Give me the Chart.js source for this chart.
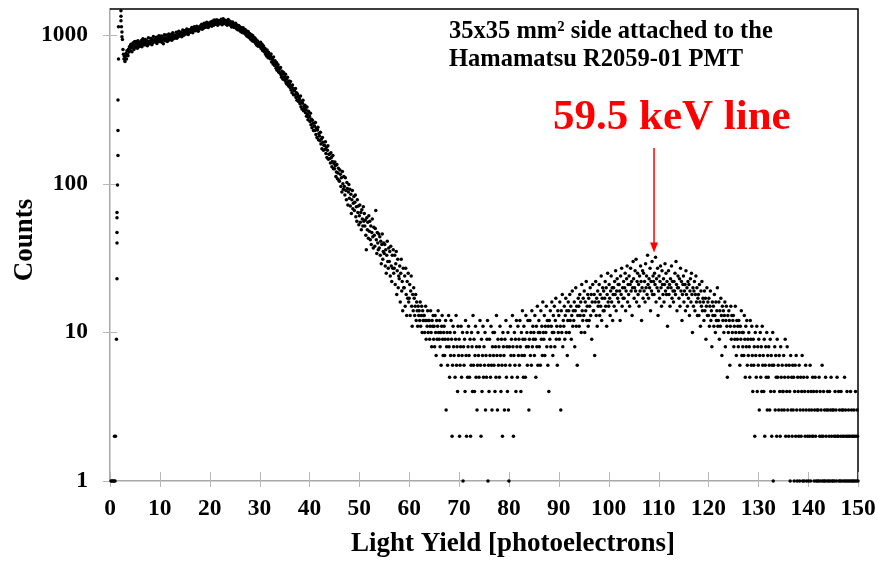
<!DOCTYPE html>
<html>
<head>
<meta charset="utf-8">
<script src="https://cdn.jsdelivr.net/npm/chart.js@4.4.0/dist/chart.umd.min.js"></script>
<style>
html,body{margin:0;padding:0;background:#fff}
</style>
</head>
<body>
<canvas id="spectrum" width="878" height="572"></canvas>
<script>
// spectrum bins: first bin at 2.6 pe, one value every 0.1 pe up to 150
const binStart = 2.6
const binStep = 0.1
const counts = [
800,745,690,720,
665,720,752,690,785,742,728,805,770,835,
790,848,868,820,772,835,885,858,800,902,
862,830,905,880,848,815,918,870,895,838,
890,852,878,920,835,868,945,905,860,882,
898,935,862,882,918,850,905,962,875,890,
875,912,948,900,862,930,888,978,905,922,
940,898,915,968,878,930,955,905,990,918,
905,948,930,988,895,922,960,875,940,1005,
962,918,945,1002,935,908,975,950,1020,928,
985,945,960,1015,925,972,1040,958,990,948,
1002,968,985,1045,955,990,1020,975,1062,992,
1012,990,1048,1005,975,1030,1085,1018,1000,1058,
1040,1075,1020,1055,1100,1032,1065,1010,1088,1050,
1072,1045,1095,1060,1125,1080,1038,1102,1070,1140,
1092,1125,1070,1105,1150,1088,1118,1062,1135,1102,
1128,1105,1160,1120,1185,1095,1142,1170,1118,1205,
1155,1190,1130,1168,1220,1148,1180,1125,1208,1165,
1198,1160,1225,1185,1150,1240,1192,1212,1168,1265,
1210,1245,1185,1225,1270,1198,1165,1232,1255,1205,
1240,1195,1222,1280,1210,1175,1248,1290,1200,1230,
1225,1262,1190,1210,1245,1165,1218,1275,1195,1180,
1218,1240,1162,1205,1135,1190,1228,1148,1170,1125,
1180,1125,1205,1150,1100,1168,1138,1085,1160,1112,
1140,1092,1060,1128,1110,1042,1085,1120,1035,1070,
1048,1090,1020,1002,1065,985,1040,1058,970,1012,
1025,962,940,1010,978,918,995,950,905,965,
905,955,878,932,860,898,915,842,885,870,
880,838,895,812,850,868,790,825,845,772,
790,812,745,770,725,795,752,705,768,718,
742,695,720,748,660,705,685,640,712,655,
625,672,640,598,655,580,612,632,565,598,
590,555,605,540,520,572,548,505,560,518,
528,495,545,478,510,468,522,485,455,492,
470,445,488,428,455,410,462,438,398,425,
422,395,438,380,410,365,402,388,358,378,
372,345,390,330,358,318,348,365,310,332,
322,338,300,315,285,328,295,270,308,280,
285,262,298,250,272,238,268,255,228,245,
245,228,258,215,236,205,230,240,198,218,
210,195,222,185,200,172,205,190,168,182,
182,170,192,160,176,150,168,180,146,158,
158,148,138,162,150,130,141,155,126,137,
126,140,132,112,120,135,108,118,127,106,
104,124,116,96,110,88,121,100,92,112,
96,84,110,90,78,102,93,72,88,99,
80,92,71,85,63,78,90,68,74,82,
66,75,84,60,70,56,78,64,71,53,
61,72,55,64,49,67,58,52,70,56,
63,52,57,45,36,59,49,55,43,61,
48,56,42,52,39,47,58,44,37,51,
45,38,50,66,42,34,47,40,36,46,
37,44,33,41,29,39,46,31,35,40,
34,39,28,36,25,33,41,30,27,37,
30,35,24,38,28,22,33,27,36,25,
27,33,21,29,35,18,26,31,20,24,
23,28,16,25,31,19,22,14,27,20,
20,24,15,27,18,13,22,17,25,16,
17,21,13,19,24,15,11,18,14,20,
17,13,15,18,12,16,14,11,15,13,
14,12,16,11,13,15,10,14,12,13,
13,10,12,15,9,12,11,14,10,12,
12,9,11,14,10,8,12,11,13,9,
11,8,13,10,7,12,9,11,14,10,
9,12,8,10,6,11,13,9,7,10,
11,7,9,12,3,8,10,6,9,13,
8,5,10,7,12,9,2,6,11,8,
7,10,5,9,13,6,8,4,11,7,
9,2,6,8,11,5,7,10,1,8,
6,9,4,12,7,2,10,5,8,11,
7,5,9,2,6,10,8,4,13,6,
9,4,7,11,5,8,3,6,10,7,
5,8,12,6,2,9,4,7,11,5,
8,6,10,3,7,5,9,12,1,6,
4,9,7,5,11,6,3,8,10,7,
6,10,4,8,5,13,7,3,9,6,
8,5,11,7,4,9,6,2,10,8,
7,3,9,6,12,5,8,4,10,3,
1,8,6,11,7,9,5,13,8,2,
7,10,6,9,4,12,8,5,11,7,
9,6,12,8,4,10,7,14,9,5,
11,7,9,5,13,8,10,6,12,8,
3,9,12,7,10,6,14,8,11,9,
10,7,13,9,5,11,8,15,6,10,
12,8,10,6,14,9,11,7,16,10,
9,13,7,11,10,15,8,12,6,11,
4,12,9,14,8,11,16,10,7,13,
10,15,8,12,17,9,11,6,14,10,
13,9,16,11,3,14,10,18,8,12,
11,15,9,13,17,10,14,7,12,16,
14,10,18,12,15,9,13,19,11,14,
12,16,8,14,20,11,15,6,13,17,
15,11,18,13,16,10,21,14,12,17,
13,19,10,16,14,22,12,15,18,11,
17,12,15,20,13,18,9,16,21,14,
14,18,7,16,22,13,17,11,19,15,
16,21,13,18,15,24,12,17,20,14,
19,14,17,22,15,20,11,18,25,16,
15,21,17,13,19,24,16,20,12,18,
20,15,22,18,26,14,19,23,17,21,
16,21,19,12,24,18,27,15,20,17,
22,17,20,25,14,19,23,28,16,21,
18,24,15,21,27,19,22,13,20,30,
23,17,20,26,19,31,16,22,25,18,
21,15,24,19,28,22,12,20,26,17,
25,19,22,16,29,20,24,18,33,21,
17,23,20,27,14,22,19,30,18,24,
22,18,25,21,32,16,23,20,27,13,
19,24,17,22,28,20,15,26,21,18,
23,16,21,29,19,25,18,22,11,20,
26,18,21,15,23,20,28,17,22,19,
16,22,19,25,18,30,21,14,20,24,
20,17,23,15,27,19,22,12,18,21,
24,16,19,21,14,26,18,20,15,22,
17,21,13,19,23,16,25,18,10,20,
15,19,22,14,18,24,16,20,13,17,
18,13,21,16,11,19,15,22,14,17,
16,12,19,14,17,9,15,20,13,16,
13,17,11,15,19,12,14,8,16,13,
15,11,18,13,10,16,12,14,20,11,
12,16,9,14,11,17,13,7,15,12,
14,10,13,16,8,12,15,11,5,13,
10,14,12,6,11,15,9,13,10,12,
13,8,11,9,15,10,7,12,9,11,
8,12,10,6,11,9,14,7,10,8,
10,7,13,9,5,11,8,12,6,9,
7,10,8,5,12,9,6,11,7,4,
9,6,8,2,10,7,5,11,4,8,
6,9,3,7,10,5,8,4,11,6,
7,4,9,2,6,8,5,10,3,7,
5,8,6,3,9,4,7,2,6,10,
1,6,4,8,3,7,5,2,9,5,
6,3,7,4,2,8,5,3,6,4,
4,7,3,5,9,2,6,4,8,3,
5,2,6,4,1,7,3,5,2,6,
3,5,1,4,6,2,7,3,1,5,
4,2,6,1,3,5,2,4,7,1,
3,5,1,4,2,6,3,1,5,2,
4,1,3,2,6,1,4,3,2,5,
2,4,1,3,5,2,1,4,3,1,
3,1,5,2,4,1,3,2,6,1,
2,4,1,3,1,5,2,3,1,4,
3,1,2,4,1,3,5,2,1,3,
1,3,2,1,4,2,3,1,5,2,
2,4,1,3,1,2,4,1,3,2,
3,1,2,5,1,3,2,1,4,2,
1,3,2,1,2,4,1,3,2,1,
2,1,3,2,1,4,2,1,3,2,
1
]

// pedestal / noise spike below 2.6 pe
const spikeX = [0.2,0.4,0.6,0.8,1.0,0.9,1.1,1.3,1.4,1.4,1.4,1.4,1.4,1.5,1.6,1.6,1.6,1.7,1.7,2.2,2.2,2.2,2.3,2.4,2.4,2.5]
const spikeCounts = [1,1,1,1,1,2,2,9,23,40,47,59,64,98,155,228,366,690,1140,1460,1340,1250,1140,1050,975,935]

const xTicks = [0,10,20,30,40,50,60,70,80,90,100,110,120,130,140,150]
const yTicks = [1,10,100,1000]

// 59.5 keV marker arrow (x in pe, from / to counts)
const arrowX = 109.1
const arrowFrom = 174
const arrowTo = 34.5

const serif = "'Liberation Serif','Times New Roman',serif"

const points = counts.map((c,i)=>({x:+(binStart+i*binStep).toFixed(1),y:c}))
const spike = spikeX.map((x,i)=>({x:x,y:spikeCounts[i]}))

function seg(ctx,x1,y1,x2,y2){
ctx.beginPath()
ctx.moveTo(x1,y1)
ctx.lineTo(x2,y2)
ctx.stroke()
}

function noPad(s){
s.paddingTop = 0
s.paddingBottom = 0
s.paddingLeft = 0
s.paddingRight = 0
}

const decor = {
id:"decor",
beforeDatasetsDraw(chart){
const {ctx,chartArea:a,scales} = chart
ctx.save()
ctx.strokeStyle = "#000"
ctx.lineWidth = 1.5
ctx.beginPath()
ctx.moveTo(a.left,a.top)
ctx.lineTo(a.right,a.top)
ctx.lineTo(a.right,a.bottom)
ctx.stroke()
ctx.strokeStyle = "#b8b8b8"
ctx.lineWidth = 1
xTicks.forEach(v=>{
const px = Math.round(scales.x.getPixelForValue(v))+0.5
seg(ctx,px,a.bottom-9,px,a.bottom+6)
})
yTicks.forEach(v=>{
const py = Math.round(scales.y.getPixelForValue(v))+0.5
seg(ctx,a.left-7,py,a.left+7,py)
})
ctx.restore()
},
afterDraw(chart){
const {ctx,scales} = chart
ctx.save()
ctx.fillStyle = "#000"
ctx.font = "bold 27px "+serif
ctx.textAlign = "center"
ctx.textBaseline = "alphabetic"
ctx.fillText("Light Yield [photoelectrons]",513,551)
ctx.save()
ctx.translate(32,240)
ctx.rotate(-Math.PI/2)
ctx.fillText("Counts",0,0)
ctx.restore()

ctx.textAlign = "left"
ctx.font = "bold 24.5px "+serif
ctx.fillText("35x35 mm\u00b2 side attached to the",449,38)
ctx.fillText("Hamamatsu R2059-01 PMT",449,66)

ctx.fillStyle = "#ff0000"
ctx.strokeStyle = "#ff0000"
ctx.font = "bold 43px "+serif
ctx.fillText("59.5 keV line",553,129)

const ax = scales.x.getPixelForValue(arrowX)
const y1 = scales.y.getPixelForValue(arrowFrom)
const y2 = scales.y.getPixelForValue(arrowTo)
ctx.lineWidth = 1.5
seg(ctx,ax,y1,ax,y2-8)
ctx.beginPath()
ctx.moveTo(ax,y2)
ctx.lineTo(ax-4,y2-10)
ctx.lineTo(ax+4,y2-10)
ctx.closePath()
ctx.fill()
ctx.restore()
}
}

const spec = document.getElementById("spectrum")

new Chart(spec,{

type:"scatter",

data:{
datasets:[{
label:"Spectrum",
data:points,
backgroundColor:"#000",
borderWidth:0,
pointRadius:1.75,
clip:false
},{
label:"Pedestal",
data:spike,
backgroundColor:"#000",
borderWidth:0,
pointRadius:1.75,
clip:false
}]
},

options:{
responsive:false,
animation:false,
devicePixelRatio:1,
layout:{padding:{top:9,right:20,left:0,bottom:0}},
plugins:{legend:{display:false},tooltip:{enabled:false}},
scales:{
x:{
type:"linear",
min:0,
max:150,
afterBuildTicks:s=>{s.ticks = xTicks.map(v=>({value:v}))},
afterFit:s=>{s.height = 91;noPad(s)},
grid:{display:false,drawTicks:false},
border:{display:true,color:"#a8a8a8",width:1.5},
ticks:{color:"#000",padding:14,maxRotation:0,autoSkip:false,font:{family:serif,size:23.5,weight:"bold"},callback:v=>String(v)}
},
y:{
type:"logarithmic",
min:1,
max:1500,
afterBuildTicks:s=>{s.ticks = yTicks.map(v=>({value:v}))},
afterFit:s=>{s.width = 110;noPad(s)},
grid:{display:false,drawTicks:false},
border:{display:true,color:"#a8a8a8",width:1.5},
ticks:{color:"#000",padding:22,autoSkip:false,font:{family:serif,size:23.5,weight:"bold"},callback:v=>String(v)}
}
}
},

plugins:[decor]

})
</script>
</body>
</html>
